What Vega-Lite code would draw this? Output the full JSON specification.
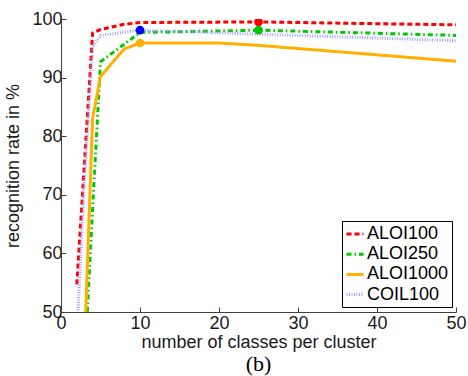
{
  "$schema": "https://vega.github.io/schema/vega-lite/v6.json",
  "width": 395,
  "height": 293,
  "autosize": {"type": "none"},
  "padding": {"left": 61, "top": 19, "right": 12, "bottom": 64},
  "title": {"text": "(b)", "orient": "bottom", "font": "Liberation Serif", "fontSize": 22, "fontWeight": "normal", "color": "#000", "offset": 3},
  "data": {"values": [
    {"series": "ALOI100", "x": 2, "y": 54.7, "marker": false},
    {"series": "ALOI100", "x": 3, "y": 76.1, "marker": false},
    {"series": "ALOI100", "x": 4, "y": 97.6, "marker": false},
    {"series": "ALOI100", "x": 5, "y": 98.2, "marker": false},
    {"series": "ALOI100", "x": 8, "y": 99.1, "marker": false},
    {"series": "ALOI100", "x": 10, "y": 99.4, "marker": false},
    {"series": "ALOI100", "x": 25, "y": 99.5, "marker": true},
    {"series": "ALOI100", "x": 50, "y": 99.0, "marker": false},
    {"series": "ALOI250", "x": 3, "y": 41.5, "marker": false},
    {"series": "ALOI250", "x": 4, "y": 67.5, "marker": false},
    {"series": "ALOI250", "x": 5, "y": 92.7, "marker": false},
    {"series": "ALOI250", "x": 10, "y": 97.7, "marker": false},
    {"series": "ALOI250", "x": 25, "y": 98.1, "marker": true},
    {"series": "ALOI250", "x": 50, "y": 97.2, "marker": false},
    {"series": "ALOI1000", "x": 3, "y": 45.0, "marker": false},
    {"series": "ALOI1000", "x": 4, "y": 83.0, "marker": false},
    {"series": "ALOI1000", "x": 5, "y": 90.2, "marker": false},
    {"series": "ALOI1000", "x": 8, "y": 94.9, "marker": false},
    {"series": "ALOI1000", "x": 10, "y": 95.9, "marker": true},
    {"series": "ALOI1000", "x": 20, "y": 95.9, "marker": false},
    {"series": "ALOI1000", "x": 25, "y": 95.5, "marker": false},
    {"series": "ALOI1000", "x": 50, "y": 92.8, "marker": false},
    {"series": "COIL100", "x": 2, "y": 46.0, "marker": false},
    {"series": "COIL100", "x": 3, "y": 73.0, "marker": false},
    {"series": "COIL100", "x": 4, "y": 95.2, "marker": false},
    {"series": "COIL100", "x": 5, "y": 97.2, "marker": false},
    {"series": "COIL100", "x": 10, "y": 98.1, "marker": true},
    {"series": "COIL100", "x": 25, "y": 97.4, "marker": false},
    {"series": "COIL100", "x": 50, "y": 96.3, "marker": false}
  ]},
  "encoding": {
    "x": {"field": "x", "type": "quantitative",
      "scale": {"domain": [0, 50], "nice": false},
      "axis": {"title": "number of classes per cluster", "values": [0, 10, 20, 30, 40, 50], "labelPadding": 7, "titlePadding": 1, "labelFlush": false, "labelOverlap": false, "labelBound": false}},
    "y": {"field": "y", "type": "quantitative",
      "scale": {"domain": [50, 100], "nice": false, "zero": false},
      "axis": {"title": "recognition rate in %", "values": [50, 60, 70, 80, 90, 100], "labelPadding": 4, "titlePadding": 9, "labelFlush": false, "labelOverlap": false, "labelBound": false}}
  },
  "layer": [
    {
      "mark": {"type": "line", "clip": true, "strokeCap": "butt"},
      "encoding": {
        "color": {"field": "series", "type": "nominal",
          "scale": {"domain": ["ALOI100", "ALOI250", "ALOI1000", "COIL100"], "range": ["#ff0000", "#00c800", "#ffb000", "#a0a0ff"]},
          "legend": {"title": null, "orient": "none", "legendX": 281, "legendY": 202}},
        "strokeDash": {"field": "series", "type": "nominal",
          "scale": {"domain": ["ALOI100", "ALOI250", "ALOI1000", "COIL100"], "range": [[5, 3], [5, 3, 1.5, 3], [1, 0], [1, 1.5]]},
          "legend": {"title": null, "orient": "none", "legendX": 281, "legendY": 202}},
        "strokeWidth": {"field": "series", "type": "nominal",
          "scale": {"domain": ["ALOI100", "ALOI250", "ALOI1000", "COIL100"], "range": [3, 3, 3, 2]},
          "legend": null}
      }
    },
    {
      "transform": [{"filter": "datum.marker"}],
      "mark": {"type": "point", "filled": true, "size": 75, "opacity": 1, "clip": true},
      "encoding": {
        "fill": {"field": "series", "type": "nominal",
          "scale": {"domain": ["ALOI100", "ALOI250", "ALOI1000", "COIL100"], "range": ["#ff0000", "#00c800", "#ffb000", "#0000ff"]},
          "legend": null}
      }
    }
  ],
  "resolve": {"scale": {"fill": "independent"}},
  "config": {
    "view": {"stroke": null},
    "font": "Liberation Sans",
    "axis": {"domainColor": "#404040", "tickColor": "#404040", "labelColor": "#1a1a1a", "titleColor": "#1a1a1a",
      "labelFont": "Liberation Sans", "titleFont": "Liberation Sans", "labelFontSize": 18, "titleFontSize": 18,
      "titleFontWeight": "normal", "grid": false, "tickSize": -5, "domainWidth": 1, "tickWidth": 1},
    "legend": {"padding": 3, "strokeColor": "#000", "fillColor": "#fff", "symbolType": "stroke", "symbolSize": 289,
      "symbolStrokeWidth": 2.5, "labelFontSize": 18, "labelFont": "Liberation Sans", "labelColor": "#000",
      "rowPadding": 1.2, "labelOffset": 2, "cornerRadius": 0}
  }
}
